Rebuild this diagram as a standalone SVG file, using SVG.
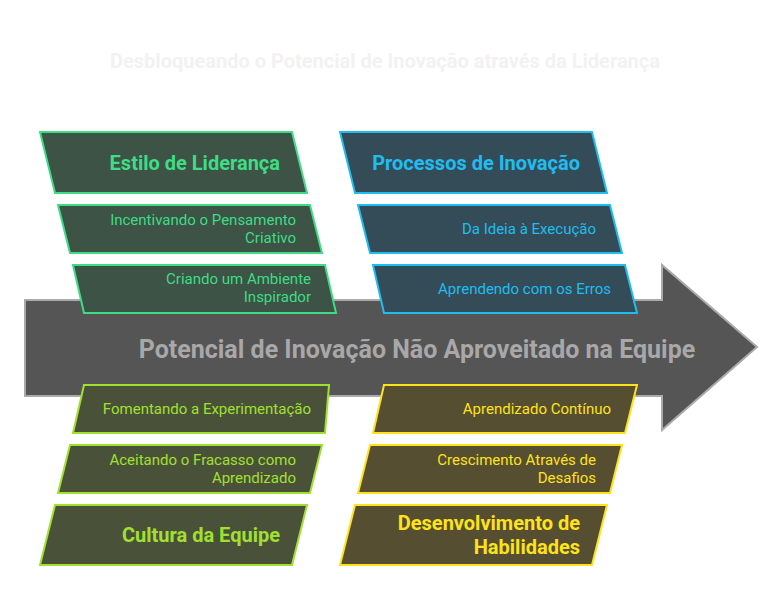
<svg xmlns="http://www.w3.org/2000/svg" width="782" height="614" viewBox="0 0 782 614">
<style>
text{font-family:Roboto,"Liberation Sans",sans-serif;}
.title{font-size:20px;font-weight:bold;fill:#f2f2f2;text-anchor:middle;}
.main{font-size:25px;font-weight:bold;fill:#a8a8a8;text-anchor:middle;}
.h{font-size:20px;font-weight:bold;text-anchor:end;}
.s{font-size:15px;text-anchor:end;}
.g path{fill:#3c5345;stroke:#3fdc86;stroke-width:2;}
.g text{fill:#3fdc86;}
.b path{fill:#344c58;stroke:#1fbdf0;stroke-width:2;}
.b text{fill:#1fbdf0;}
.l path{fill:#4a5139;stroke:#a0e030;stroke-width:2;}
.l text{fill:#a0e030;}
.y path{fill:#554e31;stroke:#ffe31a;stroke-width:2;}
.y text{fill:#ffe31a;}
</style>
<rect width="782" height="614" fill="#ffffff"/>
<text class="title" x="385" y="68">Desbloqueando o Potencial de Inovação através da Liderança</text>
<g id="spine">
<path d="M25,300 L662,300 L662,265 L757,347 L662,430 L662,396 L25,396 Z" fill="#555555" stroke="#aaaaaa" stroke-width="2"/>
<text class="main" x="417" y="358">Potencial de Inovação Não Aproveitado na Equipe</text>
</g>
<g id="connectors"></g>
<g id="estilo" class="g">
<path d="M40,132 L292,132 L307,193 L55,193 Z"/>
<text class="h" x="280" y="170">Estilo de Liderança</text>
</g>
<g id="incentivando" class="g">
<path d="M58,205 L310,205 L322,253 L70,253 Z"/>
<text class="s" x="296" y="225">Incentivando o Pensamento</text>
<text class="s" x="296" y="243">Criativo</text>
</g>
<g id="criando" class="g">
<path d="M73,265 L325,265 L336,313 L84,313 Z"/>
<text class="s" x="311" y="284">Criando um Ambiente</text>
<text class="s" x="311" y="302">Inspirador</text>
</g>
<g id="processos" class="b">
<path d="M340,132 L592,132 L607,193 L355,193 Z"/>
<text class="h" x="580" y="170">Processos de Inovação</text>
</g>
<g id="ideia" class="b">
<path d="M358,205 L610,205 L622,253 L370,253 Z"/>
<text class="s" x="596" y="234">Da Ideia à Execução</text>
</g>
<g id="aprendendo" class="b">
<path d="M373,265 L625,265 L637,313 L384,313 Z"/>
<text class="s" x="611" y="294">Aprendendo com os Erros</text>
</g>
<g id="fomentando" class="l">
<path d="M84,385 L329,385 L325,433 L73,433 Z"/>
<text class="s" x="311" y="414">Fomentando a Experimentação</text>
</g>
<g id="aceitando" class="l">
<path d="M70,445 L322,445 L310,493 L58,493 Z"/>
<text class="s" x="296" y="465">Aceitando o Fracasso como</text>
<text class="s" x="296" y="483">Aprendizado</text>
</g>
<g id="cultura" class="l">
<path d="M55,505 L307,505 L292,565 L40,565 Z"/>
<text class="h" x="280" y="542">Cultura da Equipe</text>
</g>
<g id="aprendizado" class="y">
<path d="M384,385 L637,385 L625,433 L373,433 Z"/>
<text class="s" x="611" y="414">Aprendizado Contínuo</text>
</g>
<g id="crescimento" class="y">
<path d="M370,445 L622,445 L610,493 L358,493 Z"/>
<text class="s" x="596" y="465">Crescimento Através de</text>
<text class="s" x="596" y="483">Desafios</text>
</g>
<g id="desenvolvimento" class="y">
<path d="M355,505 L607,505 L592,565 L340,565 Z"/>
<text class="h" x="580" y="530">Desenvolvimento de</text>
<text class="h" x="580" y="554">Habilidades</text>
</g>
</svg>
